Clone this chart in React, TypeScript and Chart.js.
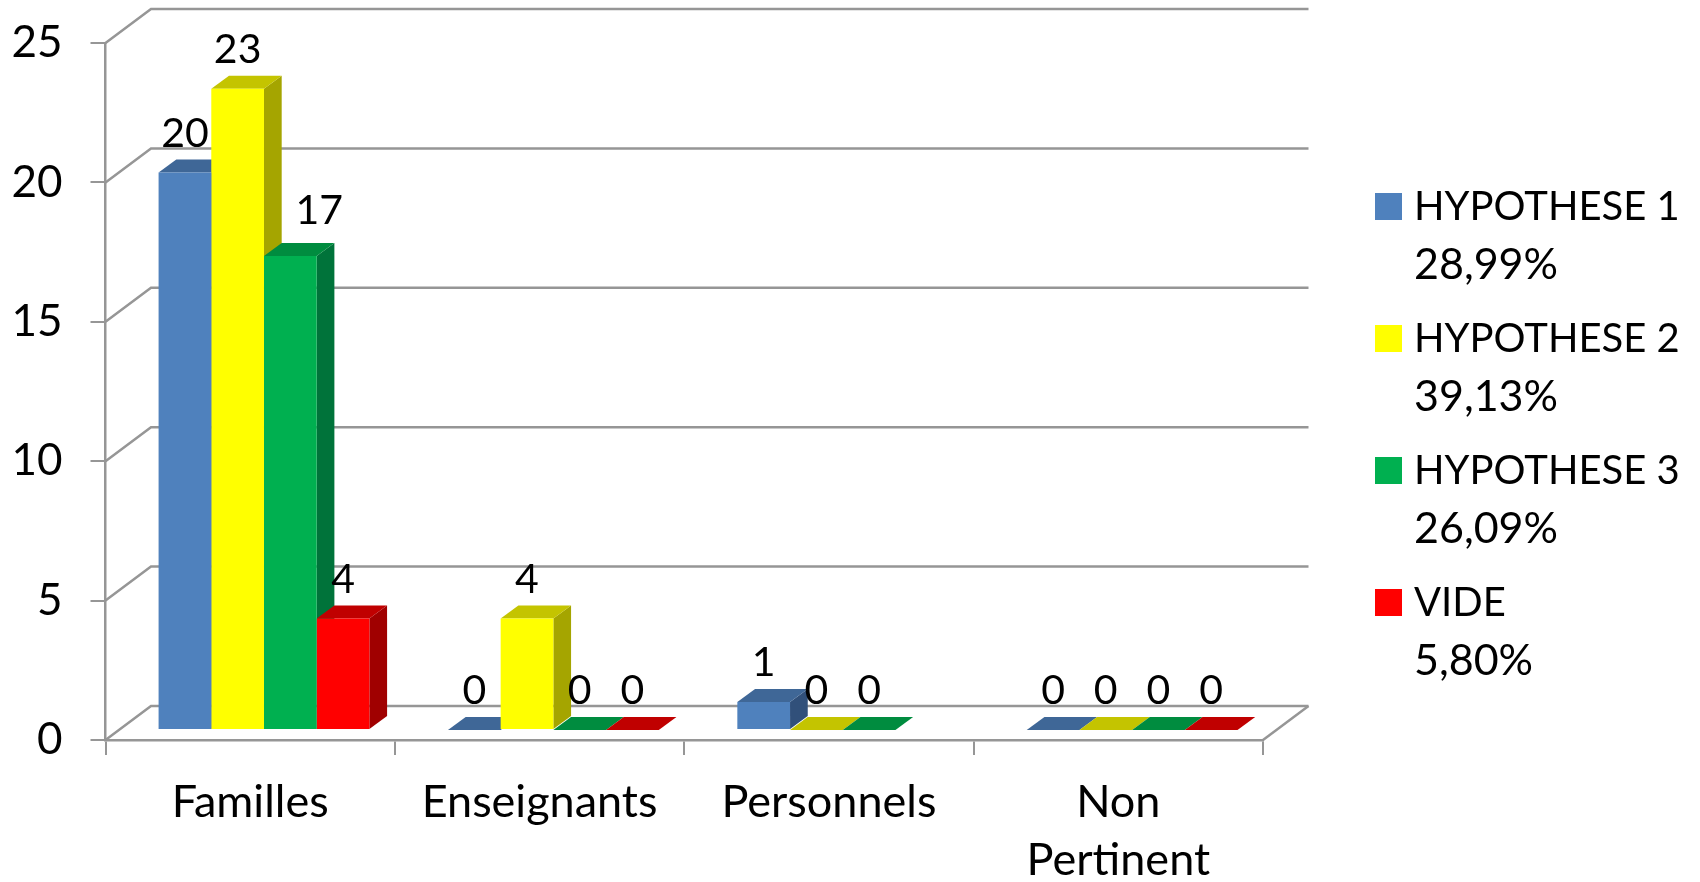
import React, { useEffect, useRef } from "react";
import { Chart, registerables } from "chart.js";

Chart.register(...registerables);

const categories: (string | string[])[] = ["Familles", "Enseignants", "Personnels", ["Non", "Pertinent"]];
const hypothese1: (number | null)[] = [20, 0, 1, 0];
const hypothese2: (number | null)[] = [23, 4, 0, 0];
const hypothese3: (number | null)[] = [17, 0, 0, 0];
const vide: (number | null)[] = [4, 0, null, 0];
const seriesNames = ["HYPOTHESE 1", "HYPOTHESE 2", "HYPOTHESE 3", "VIDE"];
const seriesShares = ["28,99%", "39,13%", "26,09%", "5,80%"];
const seriesColors = ["#4F81BD", "#FFFF00", "#00B050", "#FF0000"];
const topColors = ["#3F6797", "#C4C400", "#008C3F", "#C00000"];
const sideColors = ["#31507A", "#A5A500", "#00733A", "#A00000"];

const FONT = "Lato";
const SIZE = 40;
const AXIS_SIZE = 44;
const CATEGORY_SIZE = 45;
const SHARE_SIZE = 43;
const GRID = "#969696";
const BAR_DX = 13.8, BAR_DY = -10;
const DEPTH_DX = 17.7, DEPTH_DY = -13;
const WALL_DX = 45.5, WALL_DY = -34;

const plugin3d = {
  id: "plugin3d",
  beforeDatasetsDraw(chart: any) {
    const { ctx, chartArea: a, scales } = chart;
    ctx.save();
    ctx.strokeStyle = GRID;
    ctx.lineWidth = 2.5;
    for (const t of scales.y.ticks) {
      const y = scales.y.getPixelForValue(t.value);
      ctx.beginPath();
      ctx.moveTo(a.left, y);
      ctx.lineTo(a.left + WALL_DX, y + WALL_DY);
      ctx.lineTo(a.right + WALL_DX, y + WALL_DY);
      ctx.stroke();
    }
    ctx.beginPath();
    ctx.moveTo(a.right, a.bottom);
    ctx.lineTo(a.right + WALL_DX, a.bottom + WALL_DY);
    ctx.stroke();

    ctx.translate(BAR_DX, BAR_DY);
    const n = chart.data.labels.length;
    const count = chart.data.datasets.length;
    for (let i = 0; i < n; i++) {
      for (let d = 0; d < count; d++) {
        const v = chart.data.datasets[d].data[i];
        if (v === null) continue;
        const el = chart.getDatasetMeta(d).data[i];
        const { x, y, width, base } = el.getProps(["x", "y", "width", "base"], true);
        const l = x - width / 2, r = x + width / 2;
        if (base - y > 0) {
          ctx.fillStyle = sideColors[d];
          ctx.beginPath();
          ctx.moveTo(r, y);
          ctx.lineTo(r + DEPTH_DX, y + DEPTH_DY);
          ctx.lineTo(r + DEPTH_DX, base + DEPTH_DY);
          ctx.lineTo(r, base);
          ctx.closePath();
          ctx.fill();
        }
        ctx.fillStyle = topColors[d];
        ctx.beginPath();
        ctx.moveTo(l, y);
        ctx.lineTo(l + DEPTH_DX, y + DEPTH_DY);
        ctx.lineTo(r + DEPTH_DX, y + DEPTH_DY);
        ctx.lineTo(r, y);
        ctx.closePath();
        ctx.fill();
      }
    }
    ctx.restore();
    // the library's own bars are drawn next, moved onto the floor's inner plane
    ctx.save();
    ctx.translate(BAR_DX, BAR_DY);
  },
  afterDatasetsDraw(chart: any) {
    const { ctx } = chart;
    ctx.restore();
    ctx.save();
    ctx.font = `${SIZE + 1}px ${FONT}`;
    ctx.fillStyle = "#000";
    ctx.textAlign = "center";
    ctx.textBaseline = "middle";
    chart.data.datasets.forEach((ds: any, d: number) => {
      ds.data.forEach((v: number | null, i: number) => {
        if (v === null) return;
        const el = chart.getDatasetMeta(d).data[i];
        // the "17" label sits to the right of its bar in the reference
        const shifted = v === 17;
        ctx.fillText(
          String(v),
          el.x + BAR_DX + (shifted ? 29 : 0),
          el.y + BAR_DY - 39 - (shifted ? 6 : 0)
        );
      });
    });
    // legend
    ctx.textAlign = "left";
    seriesNames.forEach((name, d) => {
      const top = 193 + d * 132;
      ctx.fillStyle = seriesColors[d];
      ctx.fillRect(1375, top, 27, 27);
      ctx.fillStyle = "#000";
      ctx.font = `${SIZE}px ${FONT}`;
      ctx.fillText(name, 1414, top + 14);
      ctx.font = `${SHARE_SIZE}px ${FONT}`;
      ctx.fillText(seriesShares[d], 1414, top + 72);
    });
    ctx.restore();
  },
};

export default function App() {
  const ref = useRef<HTMLCanvasElement>(null);
  useEffect(() => {
    const datasets = [hypothese1, hypothese2, hypothese3, vide].map((data, i) => ({
      label: seriesNames[i],
      data,
      backgroundColor: seriesColors[i],
      borderWidth: 0,
      categoryPercentage: 0.7285,
      barPercentage: 1,
    }));
    const chart = new Chart(ref.current!, {
      type: "bar",
      data: { labels: categories as any, datasets },
      plugins: [plugin3d],
      options: {
        responsive: false,
        animation: false,
        clip: false,
        layout: { padding: { top: 43, right: 437, left: 0, bottom: 0 } },
        plugins: { legend: { display: false }, tooltip: { enabled: false } },
        scales: {
          x: {
            afterFit: (s: any) => { s.height = 142; s.paddingLeft = 0; s.paddingRight = 0; },
            border: { color: GRID, width: 2.5 },
            grid: { color: GRID, lineWidth: 2, drawOnChartArea: false, tickLength: 15, offset: true },
            ticks: {
              color: "#000",
              padding: 18,
              maxRotation: 0,
              autoSkip: false,
              font: { family: FONT, size: CATEGORY_SIZE, lineHeight: 58.5 / CATEGORY_SIZE },
            },
          },
          y: {
            min: 0,
            max: 25,
            afterFit: (s: any) => { s.width = 105.5; s.paddingTop = 0; s.paddingBottom = 0; },
            border: { color: GRID, width: 2.5 },
            grid: { color: GRID, lineWidth: 2, drawOnChartArea: false, tickLength: 15 },
            ticks: {
              color: "#000",
              stepSize: 5,
              padding: 28,
              font: { family: FONT, size: AXIS_SIZE },
            },
          },
        },
      } as any,
    });
    return () => chart.destroy();
  }, []);
  return (
    <div style={{ position: "absolute", left: 0, top: 0, width: 1700, height: 882, background: "#fff" }}>
      <canvas ref={ref} width={1700} height={882} style={{ display: "block" }} />
    </div>
  );
}
